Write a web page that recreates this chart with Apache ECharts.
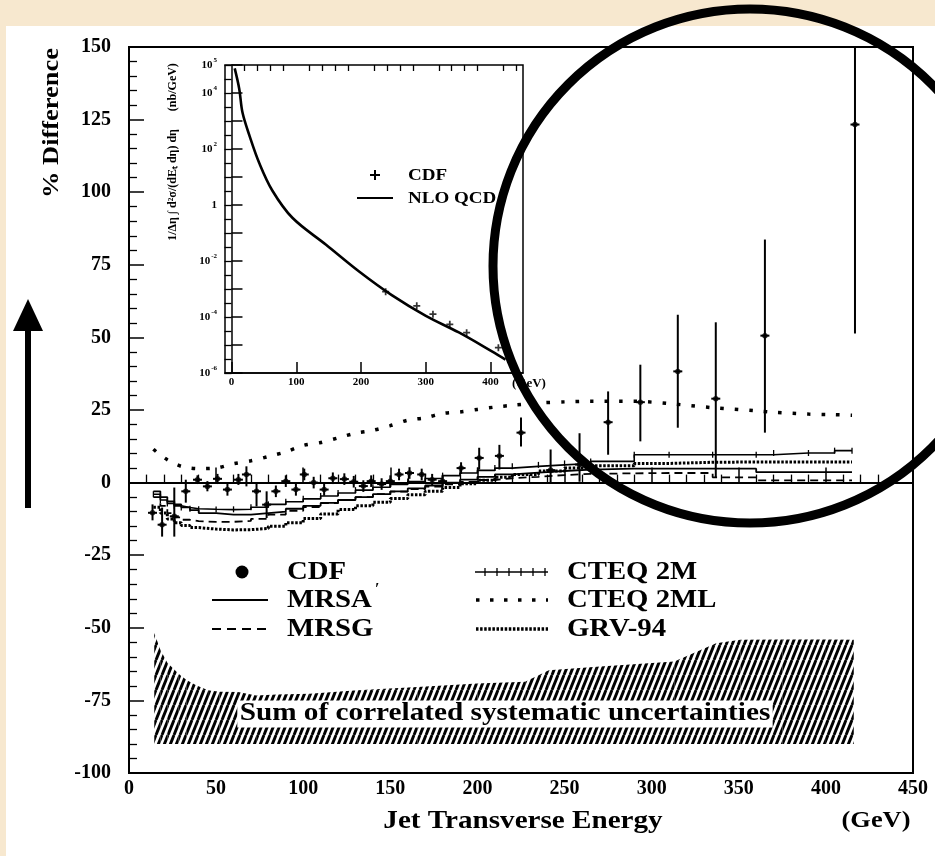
<!DOCTYPE html>
<html><head><meta charset="utf-8">
<script src="https://cdn.jsdelivr.net/npm/echarts@6/dist/echarts.min.js"></script>
<style>
html,body{margin:0;padding:0;width:935px;height:856px;overflow:hidden;background:#f7e8cf;}
#chart{position:absolute;left:0;top:0;width:935px;height:856px;}
</style></head><body>
<div id="chart"></div>
<script>
// ---------- data ----------
const E_CDF  = [13.5,19,26,32.6,39.3,45,50.8,56.5,62.8,67.4,73.2,79,84.3,90,95.8,100.6,106,112,117,123.6,129,134.5,139,145,150,155,161,168,174,180,190.6,201,212.6,225,242,258.6,275,293.5,315,336.8,365,416.7];
const V_CDF  = [-10.4,-14.5,-11.6,-3,1,-1.3,1.3,-2.4,1,2.8,-3,-7.6,-3,0.5,-2.4,2.8,0,-2.4,1.5,1.2,0.3,-1.2,0.5,-0.5,0.5,2.8,3.3,2.8,1,0.5,5,8.5,9.2,17.2,4.3,6.2,20.8,27.7,38.3,28.9,50.6,123.3];
const LO_CDF = [-13,-18.6,-18.6,-6.9,-0.5,-3,-0.5,-4.5,-0.8,-1.3,-8.2,-12.2,-5,-1.5,-4.5,0.8,-2,-4.5,-0.5,-0.8,-1.7,-3.2,-1.5,-2.5,-1.5,0.8,1.3,0.8,-1,-1.5,3,4.5,4.5,12.4,0,0.3,9.6,14.2,18.9,1.7,17.2,51.3];
const HI_CDF = [-7.5,-8.6,-1.7,1,2.5,0.5,3,-0.3,3,5.6,0,-3,-1,2.5,-0.3,4.8,2,-0.3,3.5,3.2,2.3,0.8,2.5,1.5,2.5,4.8,5.3,4.8,3,2.5,7,12,13,22.4,11.4,17,31.4,40.6,57.8,55.2,83.7,150];

const E_TH    = [14,18,22,26,30,35,40,50,60,70,80,90,100,110,120,130,140,150,160,170,180,190,200,210,220,235,250,265,290,310,335,360,370,390,405,415];
const MRSA    = [-3,-5,-6.5,-7.5,-8.5,-9.5,-10.5,-11,-11,-10.5,-10,-9,-8,-7,-6,-5,-4,-3,-2,-1,0,1,2,2.8,3.4,4,4.5,4.8,4.8,4.8,4.8,3.6,3.6,3.6,3.6,3.6];
const MRSG    = [-5,-8,-10.5,-12,-12.8,-13.3,-13.5,-13.5,-13.2,-12.5,-11,-9.7,-8.4,-7.1,-6,-5,-4,-3.1,-2.2,-1.4,-0.6,0.2,0.9,1.5,2,2.6,3,3.2,3.3,3.3,1.8,0.8,0.8,0.8,0.8,0.8];
const CTEQ2M  = [-4,-6,-7.2,-8,-8.6,-9,-9.2,-9.3,-9.2,-8.5,-7.5,-6.6,-5.6,-4.6,-3.6,-2.6,-1.6,-0.6,0.4,1.4,2.4,3.3,4.2,5,5.6,6.1,6.6,7.3,9.6,9.6,9.6,9.6,10.2,10.2,11,11];
const CTEQ2ML = [11.5,9.5,7.9,6.6,5.6,5.0,4.8,5.0,6.5,7.5,9,10.6,12.8,13.8,15.4,17,18,19.6,21.5,22.3,23.8,24.3,25.2,26,26.6,27.4,27.8,28,28,27.2,25.8,24.7,24.2,23.6,23.4,23.2];
const GRV94   = [-8.5,-10.5,-12.5,-13.8,-14.8,-15.5,-16,-16.3,-16.2,-15.8,-15,-13.8,-12.4,-10.8,-9.3,-8,-6.8,-5.5,-4.2,-3,-1.7,-0.4,0.8,1.8,2.8,4,5,5.8,6.6,7,7.1,7.1,7.1,7.1,7.1,7.1];

const E_BAND   = [14.5,18,22,28.3,33,38.5,45.4,52,62.6,73,85,103.8,131,165.6,200,227.4,241,268.6,313,337,351,375,400,416];
const BAND_TOP = [-51.8,-57.6,-62,-65.7,-68,-69.8,-71.5,-72,-72.1,-73.3,-73,-72.7,-71.5,-70.4,-69.2,-68.6,-64.6,-63.4,-61.6,-55.3,-54.1,-54,-54,-54.1];
const BAND_LOW = -90;

const INSET_E   = [5,12,17,28,43,63,94,146,197,248,300,351,402,423];
const INSET_NLO = [7.6e4,1.4e4,2.0e3,2.9e2,31,3.3,0.35,0.038,4.2e-3,5.9e-4,1.1e-4,2.8e-5,5.9e-6,3.0e-6];
const INSET_CDF_E = [238,286,311,337,363,412];
const INSET_CDF_V = [8e-4,2.5e-4,1.26e-4,5.5e-5,2.75e-5,8e-6];

const X_TICKS_MAIN = [0,450,50];
const Y_TICKS_MAIN = [-100,150,25];
const INSET_X_LABELS = [0,100,200,300,400];
const INSET_Y_LABEL_EXP = [-6,-4,-2,0,2,4,5];

// ---------- helpers ----------
const FF = 'Liberation Serif';
function makeHatch(){
  const w=6,h=15; const c=document.createElement('canvas'); c.width=w; c.height=h;
  const g=c.getContext('2d'); g.strokeStyle='#000'; g.lineWidth=2.9;
  for (const dx of [-w,0,w]) { g.beginPath(); g.moveTo(dx, h); g.lineTo(dx+w, 0); g.stroke(); }
  return c;
}
const hatch = makeHatch();
const pairs = (xs, ys) => xs.map((x,i)=>[x, ys[i]]);
const txt = (x,y,text,size,extra,sx) => Object.assign({type:'text', x:x, y:y, z:100, scaleX:sx||1,
  style:Object.assign({text:text, fill:'#000', font:'bold '+size+'px "'+FF+'"', textVerticalAlign:'middle', textAlign:'left'}, extra||{})});
const ln = (x1,y1,x2,y2,w,dash) => ({type:'line', z:100, shape:{x1,y1,x2,y2}, style:{stroke:'#000', lineWidth:w, lineDash:dash||null}});

const minorInsetX = []; for (let v=20; v<=440; v+=20) if (v%100) minorInsetX.push(v);
const bandSegs = []; for (let i=0;i<E_BAND.length-1;i++) bandSegs.push([E_BAND[i],BAND_TOP[i],E_BAND[i+1],BAND_TOP[i+1],BAND_LOW]);

const chart = echarts.init(document.getElementById('chart'), null, {renderer:'canvas'});

const LS = 1.15;
const legendEls = [
  {type:'circle', z:100, shape:{cx:242, cy:572, r:6.5}, style:{fill:'#000'}},
  txt(287,573,'CDF',25,null,LS),
  ln(212,600,268,600,2),
  txt(287,601,'MRSA',25,null,LS),
  txt(375,590,'′',16),
  ln(212,629,268,629,2,[9,6]),
  txt(287,630,'MRSG',25,null,LS),
  ln(475,572,548,572,1.5),
  ...[485,497,509,521,533,545].map(x=>ln(x,568,x,576,1.3)),
  txt(567,573,'CTEQ 2M',25,null,LS),
  ln(476,600,548,600,3.5,[3.5,10.5]),
  txt(567,601,'CTEQ 2ML',25,null,LS),
  ln(476,629,548,629,3.5,[2.5,1.6]),
  txt(567,630,'GRV-94',25,null,LS),
  // inset legend
  ln(370,175,380,175,2), ln(375,170,375,180,2),
  txt(408,176,'CDF',17,null,1.12),
  ln(357,198,393,198,2),
  txt(408,199,'NLO QCD',17,null,1.12)
];

const option = {
  animation:false,
  backgroundColor:'#f7e8cf',
  graphic:{elements:[
    {type:'rect', z:-10, shape:{x:6,y:26,width:935,height:840}, style:{fill:'#fff'}},
    ...legendEls,
    {type:'text', z:100, x:52, y:123, rotation:Math.PI/2, scaleX:1.1,
      style:{text:'% Difference', fill:'#000', font:'bold 24px "'+FF+'"', textAlign:'center', textVerticalAlign:'middle'}},
    txt(523,821,'Jet Transverse Energy',26,{textAlign:'center'},1.12),
    txt(876,821,'(GeV)',24,{textAlign:'center'},1.1),
    {type:'text', z:100, x:505, y:714, scaleX:1.17,
      style:{text:'Sum of correlated systematic uncertainties', fill:'#000', font:'bold 25px "'+FF+'"',
        textAlign:'center', textVerticalAlign:'middle', backgroundColor:'#fff', padding:[1,2,1,2]}},
    {type:'text', z:100, x:173, y:152, rotation:Math.PI/2,
      style:{text:'1/Δη ∫ d²σ/(dE\u209C dη) dη      (nb/GeV)', fill:'#000', font:'bold 12px "'+FF+'"', textAlign:'center', textVerticalAlign:'middle'}},
    txt(512,384,'(GeV)',13),
    // arrow
    ln(28,508,28,326,6),
    {type:'polygon', z:100, shape:{points:[[13,331],[43,331],[28,299]]}, style:{fill:'#000'}},
    // circle annotation
    {type:'circle', z:200, shape:{cx:750, cy:266, r:257}, style:{fill:'none', stroke:'#000', lineWidth:9}}
  ]},
  grid:[
    {left:129, top:47, width:784, height:726, show:true, borderColor:'#000', borderWidth:2, backgroundColor:'rgba(0,0,0,0)'},
    {left:225, top:65, width:298, height:308, show:true, borderColor:'#000', borderWidth:1.5, backgroundColor:'#fff'}
  ],
  xAxis:[
    {type:'value', gridIndex:0, min:X_TICKS_MAIN[0], max:X_TICKS_MAIN[1], interval:X_TICKS_MAIN[2],
      axisLine:{lineStyle:{color:'#000', width:2}},
      axisTick:{inside:true, length:15, lineStyle:{color:'#000', width:1.5}},
      minorTick:{show:true, splitNumber:5, length:8, lineStyle:{color:'#000', width:1.3}},
      splitLine:{show:false},
      axisLabel:{color:'#000', fontFamily:FF, fontWeight:'bold', fontSize:20, margin:6}},
    {type:'value', gridIndex:1, min:-10, max:450,
      axisLine:{lineStyle:{color:'#000', width:1.5}},
      axisTick:{inside:true, length:11, customValues:INSET_X_LABELS, lineStyle:{color:'#000', width:1.5}},
      splitLine:{show:false},
      axisLabel:{customValues:INSET_X_LABELS, color:'#000', fontFamily:FF, fontWeight:'bold', fontSize:11, margin:4}},
    {type:'value', gridIndex:1, min:-10, max:450,
      axisLine:{show:false},
      axisTick:{inside:true, length:6, customValues:minorInsetX, lineStyle:{color:'#000', width:1.3}},
      splitLine:{show:false}, axisLabel:{show:false}}
  ],
  yAxis:[
    {type:'value', gridIndex:0, min:Y_TICKS_MAIN[0], max:Y_TICKS_MAIN[1], interval:Y_TICKS_MAIN[2],
      axisLine:{lineStyle:{color:'#000', width:2}},
      axisTick:{inside:true, length:15, lineStyle:{color:'#000', width:1.5}},
      minorTick:{show:true, splitNumber:5, length:8, lineStyle:{color:'#000', width:1.3}},
      splitLine:{show:false},
      axisLabel:{color:'#000', fontFamily:FF, fontWeight:'bold', fontSize:20, margin:18}},
    {type:'log', logBase:10, gridIndex:1, min:1e-6, max:1e5, interval:1,
      axisLine:{lineStyle:{color:'#000', width:1.5}},
      axisTick:{inside:true, length:11, lineStyle:{color:'#000', width:1.5}},
      splitLine:{show:false},
      axisLabel:{color:'#000', margin:8,
        formatter:function(v){ const e=Math.round(Math.log10(v)); if(INSET_Y_LABEL_EXP.indexOf(e)<0) return ''; if(e===0) return '{b|1}'; return '{b|10}{s|'+e+'}'; },
        rich:{b:{fontFamily:FF, fontWeight:'bold', fontSize:11, lineHeight:16, verticalAlign:'middle'},
              s:{fontFamily:FF, fontWeight:'bold', fontSize:7, lineHeight:8, verticalAlign:'top', padding:[0,0,0,1]}}}},
    {type:'log', logBase:10, gridIndex:1, min:1e-6, max:1e5, interval:0.5,
      axisLine:{show:false},
      axisTick:{inside:true, length:7, lineStyle:{color:'#000', width:1.3}},
      splitLine:{show:false}, axisLabel:{show:false}}
  ],
  series:[
    {name:'band', type:'custom', xAxisIndex:0, yAxisIndex:0, z:1, silent:true,
      data:bandSegs, encode:{x:[0,2], y:[1,3,4]},
      renderItem:function(params, api){
        const x0=api.value(0), t0=api.value(1), x1=api.value(2), t1=api.value(3), lo=api.value(4);
        const pts=[api.coord([x0,lo]), api.coord([x0,t0]), api.coord([x1,t1]), api.coord([x1,lo])];
        return {type:'polygon', shape:{points:pts}, style:{fill:{image:hatch, repeat:'repeat'}, stroke:null}};
      }},
    {name:'MRSA', type:'line', xAxisIndex:0, yAxisIndex:0, data:pairs(E_TH,MRSA), step:'end', symbol:'none',
      lineStyle:{color:'#000', width:1.8},
      markLine:{silent:true, symbol:['none','none'], label:{show:false}, lineStyle:{color:'#000', type:'solid', width:1.5}, data:[{yAxis:0}]}},
    {name:'MRSG', type:'line', xAxisIndex:0, yAxisIndex:0, data:pairs(E_TH,MRSG), step:'end', symbol:'none',
      lineStyle:{color:'#000', width:1.8, type:[8,5]}},
    {name:'CTEQ 2M', type:'line', xAxisIndex:0, yAxisIndex:0, data:pairs(E_TH,CTEQ2M), step:'end', symbol:'rect', symbolSize:[1.3,6], showSymbol:true,
      itemStyle:{color:'#000'}, lineStyle:{color:'#000', width:1.6}},
    {name:'CTEQ 2ML', type:'line', xAxisIndex:0, yAxisIndex:0, data:pairs(E_TH,CTEQ2ML), symbol:'none', smooth:0.3,
      lineStyle:{color:'#000', width:3.5, type:[3.5,11]}},
    {name:'GRV-94', type:'line', xAxisIndex:0, yAxisIndex:0, data:pairs(E_TH,GRV94), step:'end', symbol:'none',
      lineStyle:{color:'#000', width:3, type:[2.5,1.6]}},
    {name:'CDF err', type:'custom', xAxisIndex:0, yAxisIndex:0, clip:true, z:5,
      data:E_CDF.map((e,i)=>[e,V_CDF[i],LO_CDF[i],HI_CDF[i]]),
      encode:{x:0, y:[1,2,3]},
      renderItem:function(params, api){
        const x=api.value(0), y=api.value(1);
        const a=api.coord([x,api.value(2)]), b=api.coord([x,api.value(3)]), p=api.coord([x,y]);
        return {type:'group', children:[
          {type:'line', shape:{x1:a[0],y1:a[1],x2:b[0],y2:b[1]}, style:{stroke:'#000', lineWidth:2}},
          {type:'line', shape:{x1:p[0]-4.5,y1:p[1],x2:p[0]+4.5,y2:p[1]}, style:{stroke:'#000', lineWidth:2}}
        ]};
      }},
    {name:'CDF', type:'scatter', xAxisIndex:0, yAxisIndex:0, data:pairs(E_CDF,V_CDF), symbol:'circle', symbolSize:5.5,
      itemStyle:{color:'#000'}, z:6},
    {name:'NLO QCD', type:'line', xAxisIndex:1, yAxisIndex:1, data:pairs(INSET_E,INSET_NLO), symbol:'none', smooth:0.35,
      lineStyle:{color:'#000', width:2.6}},
    {name:'CDF inset', type:'scatter', xAxisIndex:1, yAxisIndex:1, data:pairs(INSET_CDF_E,INSET_CDF_V),
      symbol:'path://M-1,-4h2v3h3v2h-3v3h-2v-3h-3v-2h3z', symbolSize:7, itemStyle:{color:'#000'}}
  ]
};
chart.setOption(option);
</script></body></html>
